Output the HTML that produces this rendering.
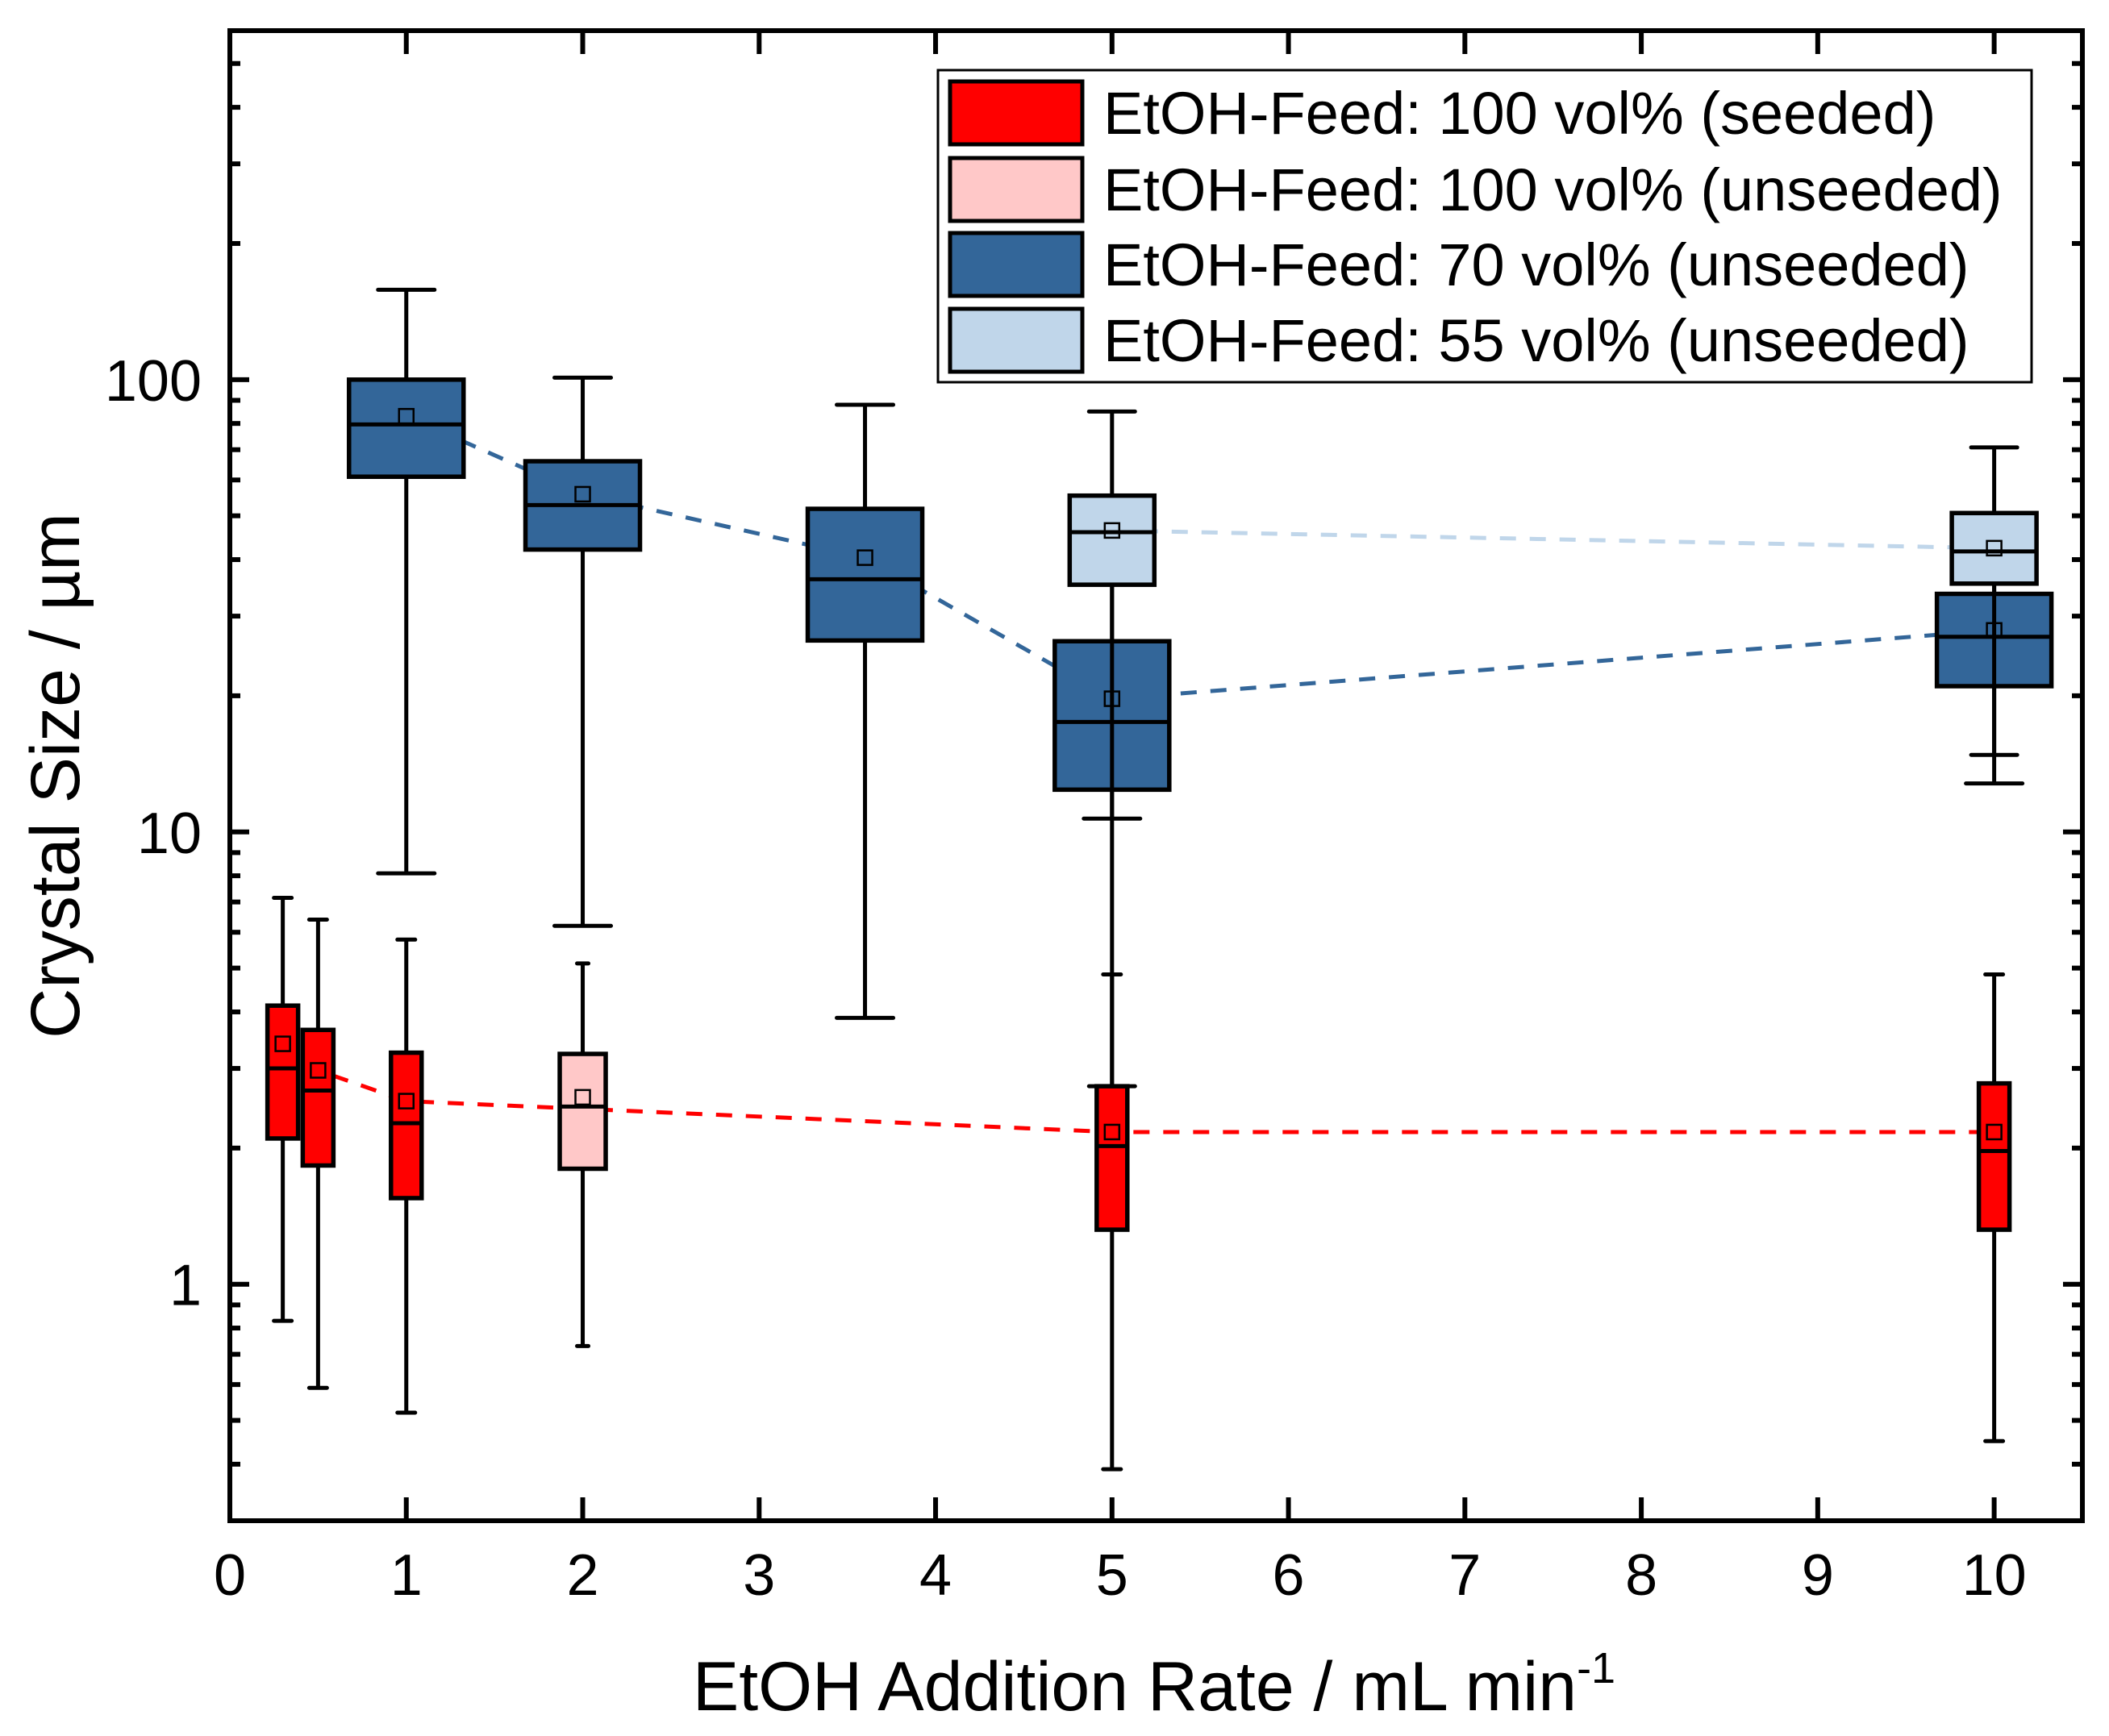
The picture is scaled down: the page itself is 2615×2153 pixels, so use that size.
<!DOCTYPE html>
<html><head><meta charset="utf-8"><style>
html,body{margin:0;padding:0;background:#fff;}
svg{display:block;font-family:"Liberation Sans",Arial,sans-serif;}
</style></head><body>
<svg id="chart" width="2615" height="2153" viewBox="0 0 2615 2153" xmlns="http://www.w3.org/2000/svg">
<rect x="0" y="0" width="2615" height="2153" fill="#fff"/>
<g id="plot"></g>
<g id="axes"></g>
<g id="legend">
  <rect x="1163" y="87" width="1356" height="387" fill="#fff" stroke="#000" stroke-width="3"/>
</g>
<text x="1431" y="2121" font-size="86" text-anchor="middle">EtOH Addition Rate / mL min<tspan dy="-34" font-size="54">-1</tspan></text>
<text transform="translate(98,962) rotate(-90)" font-size="86" text-anchor="middle">Crystal Size / µm</text>
</svg>
<script>
// ---- data ----
const seriesNames = ["EtOH-Feed: 100 vol% (seeded)","EtOH-Feed: 100 vol% (unseeded)","EtOH-Feed: 70 vol% (unseeded)","EtOH-Feed: 55 vol% (unseeded)"];
const seriesColors = ["#ff0000","#ffc8c8","#336699","#c0d6ea"];
// seeded 100%
const s0x = [0.3,0.5,1,5,10];
const s0lo = [0.83,0.59,0.52,0.39,0.45];
const s0q1 = [2.1,1.83,1.55,1.32,1.32];
const s0med = [3.0,2.68,2.27,2.02,1.97];
const s0q3 = [4.13,3.65,3.25,2.74,2.78];
const s0hi = [7.15,6.4,5.78,4.84,4.84];
const s0mean = [3.4,2.97,2.54,2.17,2.17];
// unseeded 100%
const s1x = [2];
const s1lo = [0.73];
const s1q1 = [1.8];
const s1med = [2.47];
const s1q3 = [3.23];
const s1hi = [5.12];
const s1mean = [2.59];
// 70%
const s2x = [1,2,3.6,5,10];
const s2lo = [8.1,6.2,3.88,10.7,12.8];
const s2q1 = [61,42.1,26.5,12.4,21];
const s2med = [79.6,52.8,36.2,17.5,27];
const s2q3 = [100,66,51.8,26.4,33.6];
const s2hi = [158,101,88,40,36];
const s2mean = [83,55.8,40.4,19.7,27.9];
// 55%
const s3x = [5,10];
const s3lo = [2.74,14.8];
const s3q1 = [35.2,35.4];
const s3med = [46,41.7];
const s3q3 = [55.4,50.7];
const s3hi = [85,70.8];
const s3mean = [46.4,42.4];
const xTicks = [0,1,2,3,4,5,6,7,8,9,10];
const xTickLabels = ["0","1","2","3","4","5","6","7","8","9","10"];
const yTicks = [1,10,100];
const yTickLabels = ["1","10","100"];

// ---- scales ----
const X0=285, X1=2582, Y0=38, Y1=1886;
const xMin=0, xMax=10.5;
const yMinL=Math.log10(0.3), yMaxL=Math.log10(591);
function sx(v){return X0+(v-xMin)/(xMax-xMin)*(X1-X0);}
function sy(v){return Y1-(Math.log10(v)-yMinL)/(yMaxL-yMinL)*(Y1-Y0);}

const NS="http://www.w3.org/2000/svg";
function mk(tag,attrs,parent){const e=document.createElementNS(NS,tag);for(const k in attrs)e.setAttribute(k,attrs[k]);parent.appendChild(e);return e;}
const plot=document.getElementById('plot');
const axes=document.getElementById('axes');

const series=[
 {x:s0x,lo:s0lo,q1:s0q1,med:s0med,q3:s0q3,hi:s0hi,mean:s0mean,w:38,cap:22,key:'seeded-100'},
 {x:s1x,lo:s1lo,q1:s1q1,med:s1med,q3:s1q3,hi:s1hi,mean:s1mean,w:57,cap:14,key:'unseeded-100'},
 {x:s2x,lo:s2lo,q1:s2q1,med:s2med,q3:s2q3,hi:s2hi,mean:s2mean,w:142,cap:70,key:'unseeded-70'},
 {x:s3x,lo:s3lo,q1:s3q1,med:s3med,q3:s3q3,hi:s3hi,mean:s3mean,w:105,cap:57,key:'unseeded-55'}
];
[0,2,3].forEach(si=>{
  const s=series[si];
  const pts=s.x.map((v,i)=>sx(v)+','+sy(s.mean[i])).join(' ');
  const pl=mk('polyline',{points:pts,fill:'none',stroke:seriesColors[si],'stroke-width':5,'stroke-dasharray':'20 17'},plot);
  
  
});
[2,3,0,1].forEach(si=>{
  const s=series[si];
  s.x.forEach((xv,i)=>{
    const g=mk('g',{},plot);
    
    
    const cx=sx(xv);
    mk('line',{x1:cx,x2:cx,y1:sy(s.hi[i]),y2:sy(s.lo[i]),stroke:'#000','stroke-width':5},g);
    mk('line',{x1:cx-s.cap/2,x2:cx+s.cap/2,y1:sy(s.hi[i]),y2:sy(s.hi[i]),stroke:'#000','stroke-width':5,'stroke-linecap':'round'},g);
    mk('line',{x1:cx-s.cap/2,x2:cx+s.cap/2,y1:sy(s.lo[i]),y2:sy(s.lo[i]),stroke:'#000','stroke-width':5,'stroke-linecap':'round'},g);
    const yt=sy(s.q3[i]), yb=sy(s.q1[i]);
    mk('rect',{x:cx-s.w/2,y:yt,width:s.w,height:yb-yt,fill:seriesColors[si],stroke:'#000','stroke-width':5.5},g);
    mk('line',{x1:cx-s.w/2,x2:cx+s.w/2,y1:sy(s.med[i]),y2:sy(s.med[i]),stroke:'#000','stroke-width':5},g);
    const m=mk('rect',{x:cx-9,y:sy(s.mean[i])-9,width:18,height:18,fill:'none',stroke:'#000','stroke-width':2.5},g);
    
    
  });
});

const fr=mk('rect',{x:X0,y:Y0,width:X1-X0,height:Y1-Y0,fill:'none',stroke:'#000','stroke-width':6},axes);


xTicks.forEach((v,i)=>{
  const x=sx(v);
  mk('line',{x1:x,x2:x,y1:Y1,y2:Y1-29,stroke:'#000','stroke-width':6},axes);
  mk('line',{x1:x,x2:x,y1:Y0,y2:Y0+29,stroke:'#000','stroke-width':6},axes);
  const t=mk('text',{x:x,y:1978,'font-size':72,'text-anchor':'middle'},axes);
  t.textContent=xTickLabels[i];
  
  
});
yTicks.forEach((v,i)=>{
  const y=sy(v);
  mk('line',{x1:X0,x2:X0+24,y1:y,y2:y,stroke:'#000','stroke-width':6},axes);
  mk('line',{x1:X1,x2:X1-24,y1:y,y2:y,stroke:'#000','stroke-width':6},axes);
  const t=mk('text',{x:250,y:y+26,'font-size':72,'text-anchor':'end'},axes);
  t.textContent=yTickLabels[i];
  
  
});
[0.1,1,10,100].forEach(d=>{for(let k=2;k<=9;k++){const v=d*k;if(v<0.3||v>591||v===1||v===10||v===100)continue;const y=sy(v);
  mk('line',{x1:X0,x2:X0+13,y1:y,y2:y,stroke:'#000','stroke-width':6},axes);
  mk('line',{x1:X1,x2:X1-13,y1:y,y2:y,stroke:'#000','stroke-width':6},axes);}});

const leg=document.getElementById('legend');
const legY=[140,235,328,422];
seriesNames.forEach((n,i)=>{
  const g=mk('g',{},leg);
  
  
  mk('rect',{x:1178,y:legY[i]-39,width:164,height:78,fill:seriesColors[i],stroke:'#000','stroke-width':5},g);
  const t=mk('text',{x:1368,y:legY[i]+26,'font-size':74},g);
  t.textContent=n;
});
</script>
</body></html>
